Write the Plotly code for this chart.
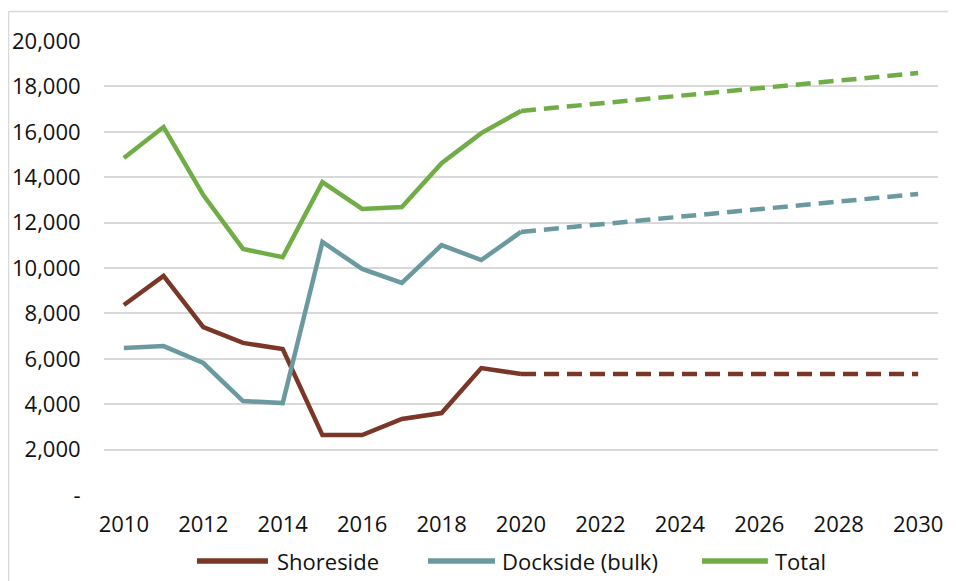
import plotly.graph_objects as go

# historic years and values
years = [2010, 2011, 2012, 2013, 2014, 2015, 2016, 2017, 2018, 2019, 2020]
shoreside = [8370, 9650, 7400, 6700, 6430, 2640, 2640, 3350, 3610, 5590, 5330]
dockside = [6475, 6560, 5815, 4140, 4050, 11145, 9960, 9340, 11010, 10350, 11590]
total = [14845, 16210, 13215, 10840, 10480, 13785, 12600, 12690, 14620, 15940, 16920]

# projection end points
proj_years = [2020, 2030]
shoreside_proj = [5330, 5330]
dockside_proj = [11590, 13260]
total_proj = [16920, 18590]

y_ticks = [0, 2000, 4000, 6000, 8000, 10000, 12000, 14000, 16000, 18000, 20000]
y_labels = ["-"] + [f"{v:,}" for v in y_ticks[1:]]
x_ticks = list(range(2010, 2031, 2))

series = ["Shoreside", "Dockside (bulk)", "Total"]
colors = {"Shoreside": "#7a3626", "Dockside (bulk)": "#6a9a9f", "Total": "#70ad47"}

fig = go.Figure()

for name, hist, proj in zip(series, [shoreside, dockside, total],
                            [shoreside_proj, dockside_proj, total_proj]):
    fig.add_trace(go.Scatter(
        x=years, y=hist, mode="lines", name=name, showlegend=False,
        line=dict(color=colors[name], width=4.5),
    ))
    fig.add_trace(go.Scatter(
        x=proj_years, y=proj, mode="lines", name=name, showlegend=False,
        line=dict(color=colors[name], width=4.5, dash="15px,8px"),
    ))

# light grey chart border: only the top and left edges are in view
border = dict(color="#d9d9d9", width=1.5)
fig.add_shape(type="line", xref="paper", yref="paper",
              x0=-0.1145, x1=1.2, y0=1.065, y1=1.065, line=border, layer="below")
fig.add_shape(type="line", xref="paper", yref="paper",
              x0=-0.1145, x1=-0.1145, y0=-0.4, y1=1.065, line=border, layer="below")

# legend drawn below the axis: long line swatches like the original
legend_pos = [(0.1115, 0.1966, 0.205), (0.3885, 0.4688, 0.4748), (0.717, 0.796, 0.802)]
for name, (lx0, lx1, tx) in zip(series, legend_pos):
    fig.add_shape(type="line", xref="paper", yref="paper",
                  x0=lx0, x1=lx1, y0=-0.1454, y1=-0.1454,
                  line=dict(color=colors[name], width=5.5))
    fig.add_annotation(xref="paper", yref="paper", x=tx, y=-0.1454,
                       xanchor="left", yanchor="middle", text=name,
                       showarrow=False, font=dict(size=22))

fig.update_layout(
    width=956, height=581,
    margin=dict(l=96, r=26, t=33, b=94),
    paper_bgcolor="white", plot_bgcolor="white",
    font=dict(family="Open Sans", size=22, color="#111111"),
    showlegend=False,
    xaxis=dict(
        range=[2009.5, 2030.5], tickvals=x_ticks, showgrid=False,
        zeroline=False, showline=False, ticks="outside", ticklen=10,
        tickcolor="rgba(0,0,0,0)", automargin=False,
    ),
    yaxis=dict(
        range=[0, 20000], tickvals=y_ticks, ticktext=y_labels,
        showgrid=True, gridcolor="#d9d9d9", gridwidth=1.5, zeroline=False,
        ticks="outside", ticklen=18, tickcolor="rgba(0,0,0,0)", automargin=False,
    ),
)

fig.write_html("out.html")
